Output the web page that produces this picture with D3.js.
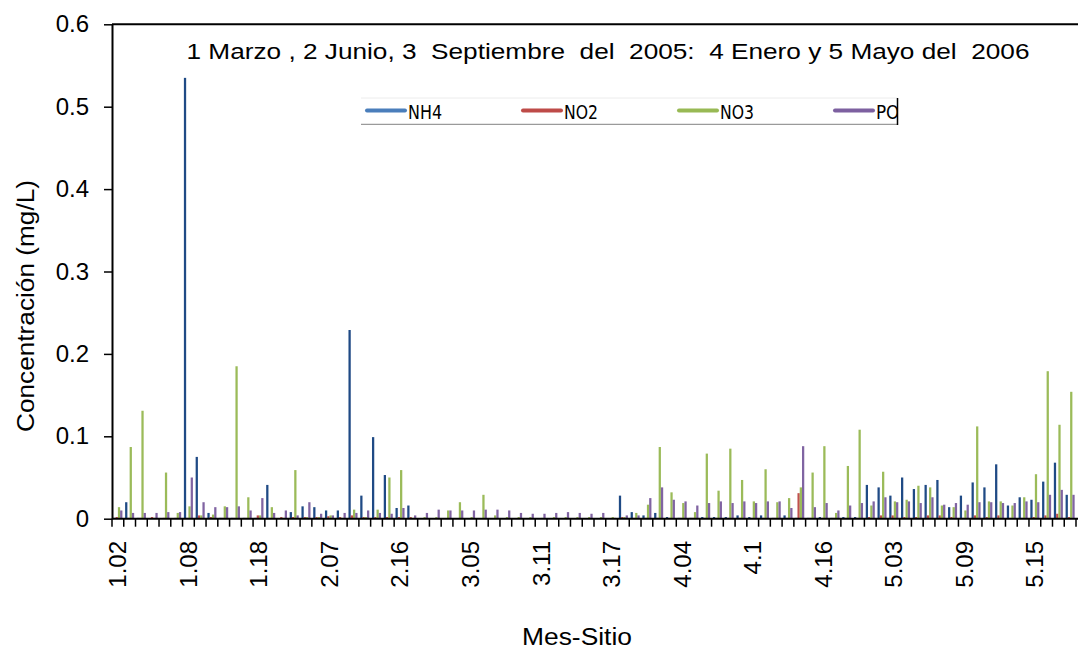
<!DOCTYPE html>
<html>
<head>
<meta charset="utf-8">
<script src="https://cdn.jsdelivr.net/npm/d3@7"></script>
<style>
  body { margin: 0; background: #fff; }
  text { font-family: "Liberation Sans", Arial, sans-serif; fill: #000; }
</style>
</head>
<body>
<svg id="chart" width="1078" height="650"></svg>
<script>
// Sampling points (month.site)
const categories = [
  "1.02","1.03","1.04","1.05","1.06","1.07","1.08","1.09","1.1","1.12","1.14","1.16","1.18","1.19",
  "2.01","2.02","2.04","2.05","2.07","2.08","2.1","2.11","2.13","2.14","2.16","2.17",
  "3.01","3.02","3.03","3.04","3.05","3.06","3.07","3.08","3.09","3.1","3.11","3.12","3.13","3.14","3.15","3.16","3.17","3.18","3.19",
  "4.01","4.02","4.03","4.04","4.05","4.06","4.07","4.08","4.09","4.1","4.11","4.12","4.13","4.14","4.15","4.16","4.17","4.18","4.19",
  "5.01","5.02","5.03","5.04","5.05","5.06","5.07","5.08","5.09","5.1","5.11","5.12","5.13","5.14","5.15","5.16","5.17","5.18"
];

// Concentrations (mg/L)
const nh4 = [
  0.001,0.020,0.001,0.000,0.000,0.000,0.535,0.075,0.007,0.001,0.001,0.001,0.001,0.041,
  0.000,0.008,0.015,0.014,0.010,0.010,0.229,0.028,0.099,0.053,0.013,0.016,
  0.000,0.000,0.000,0.000,0.000,0.000,0.000,0.000,0.000,0.000,0.000,0.000,0.000,0.000,0.000,0.000,0.000,0.028,0.008,
  0.004,0.007,0.002,0.001,0.001,0.002,0.002,0.002,0.004,0.002,0.004,0.001,0.004,0.001,0.001,0.002,0.001,0.002,0.002,
  0.041,0.038,0.028,0.050,0.036,0.041,0.047,0.014,0.028,0.044,0.038,0.066,0.016,0.026,0.023,0.045,0.068,0.029
];
const no2 = [
  0.002,0.001,0.001,0.002,0.001,0.001,0.001,0.004,0.002,0.001,0.001,0.001,0.004,0.001,
  0.002,0.002,0.002,0.002,0.003,0.002,0.004,0.002,0.002,0.002,0.002,0.002,
  0.000,0.000,0.000,0.000,0.000,0.000,0.000,0.000,0.000,0.000,0.000,0.000,0.000,0.000,0.000,0.000,0.000,0.002,0.001,
  0.001,0.001,0.001,0.001,0.001,0.001,0.001,0.001,0.001,0.001,0.001,0.001,0.001,0.031,0.001,0.001,0.001,0.001,0.001,
  0.002,0.004,0.004,0.002,0.002,0.004,0.004,0.002,0.001,0.004,0.002,0.004,0.001,0.001,0.002,0.004,0.006,0.002
];
const no3 = [
  0.014,0.087,0.131,0.001,0.056,0.007,0.015,0.004,0.005,0.015,0.185,0.026,0.004,0.014,
  0.001,0.059,0.002,0.002,0.004,0.001,0.011,0.002,0.011,0.050,0.059,0.001,
  0.002,0.002,0.010,0.020,0.002,0.029,0.004,0.002,0.002,0.002,0.001,0.002,0.002,0.002,0.002,0.002,0.002,0.002,0.007,
  0.017,0.087,0.032,0.019,0.008,0.079,0.034,0.085,0.047,0.021,0.060,0.020,0.025,0.038,0.056,0.088,0.007,0.064,0.108,
  0.016,0.057,0.021,0.023,0.040,0.038,0.016,0.014,0.010,0.112,0.021,0.021,0.016,0.026,0.054,0.179,0.114,0.154
];
const po4 = [
  0.010,0.007,0.007,0.007,0.008,0.008,0.050,0.020,0.014,0.014,0.015,0.010,0.025,0.007,
  0.010,0.004,0.020,0.006,0.004,0.007,0.007,0.010,0.007,0.006,0.013,0.004,
  0.007,0.011,0.010,0.010,0.010,0.011,0.011,0.010,0.007,0.006,0.006,0.007,0.008,0.007,0.006,0.007,0.001,0.004,0.004,
  0.025,0.038,0.023,0.021,0.016,0.019,0.021,0.019,0.021,0.019,0.021,0.021,0.013,0.088,0.014,0.019,0.010,0.016,0.019,
  0.021,0.026,0.020,0.021,0.019,0.026,0.017,0.019,0.017,0.020,0.020,0.019,0.019,0.021,0.020,0.029,0.035,0.029
];

const seriesNames = ["NH4", "NO2", "NO3", "PO4"];
const seriesValues = [nh4, no2, no3, po4];
const barColors = ["#1F4A85", "#C0504D", "#9BBB59", "#8064A2"];
const legendColors = ["#4A7EBB", "#BE4B48", "#98B954", "#7D60A0"];

const yTicks = [0, 0.1, 0.2, 0.3, 0.4, 0.5, 0.6];
const yTickLabels = ["0", "0.1", "0.2", "0.3", "0.4", "0.5", "0.6"];

const titleText = "1 Marzo , 2 Junio, 3  Septiembre  del  2005:  4 Enero y 5 Mayo del  2006";
const yTitle = "Concentración (mg/L)";
const xTitle = "Mes-Sitio";

const svg = d3.select("#chart");
const plot = { left: 112, right: 1076, top: 24.3, bottom: 518.7 };

const x = d3.scaleBand()
  .domain(categories)
  .range([plot.left, plot.right])
  .paddingInner(0.23)
  .paddingOuter(0.115);

const xs = d3.scaleBand()
  .domain(seriesNames)
  .range([0, x.bandwidth()]);

const y = d3.scaleLinear()
  .domain([0, 0.6])
  .range([plot.bottom, plot.top]);

// Bars
const rows = categories.map((c, i) => ({
  cat: c,
  vals: seriesNames.map((s, k) => ({ s, k, v: seriesValues[k][i] }))
}));

const groups = svg.append("g")
  .selectAll("g")
  .data(rows)
  .join("g")
  .attr("transform", d => `translate(${x(d.cat)},0)`);

groups.selectAll("rect")
  .data(d => d.vals)
  .join("rect")
  .attr("x", d => xs(d.s))
  .attr("width", xs.bandwidth())
  .attr("y", d => y(d.v))
  .attr("height", d => y(0) - y(d.v))
  .attr("fill", d => barColors[d.k]);

// Top frame line
svg.append("line")
  .attr("x1", plot.left).attr("x2", 1078)
  .attr("y1", plot.top).attr("y2", plot.top)
  .attr("stroke", "#000").attr("stroke-width", 2);

// Y axis
const yAxis = svg.append("g")
  .attr("transform", `translate(${plot.left},0)`)
  .call(d3.axisLeft(y)
    .tickValues(yTicks)
    .tickFormat((d, i) => yTickLabels[i])
    .tickSize(8)
    .tickSizeOuter(0)
    .tickPadding(15));
yAxis.select(".domain").attr("stroke", "#000").attr("stroke-width", 2);
yAxis.selectAll(".tick line").attr("stroke", "#000").attr("stroke-width", 1.5);
yAxis.selectAll("text")
  .style("font-family", "'Liberation Sans', Arial, sans-serif")
  .style("font-size", "24px")
  .attr("fill", "#000");

// X axis line
svg.append("line")
  .attr("x1", plot.left).attr("x2", 1078)
  .attr("y1", plot.bottom).attr("y2", plot.bottom)
  .attr("stroke", "#000").attr("stroke-width", 2);

// Tick marks between categories
const half = (x.step() - x.bandwidth()) / 2;
const boundaries = categories.map(c => x(c) - half).concat([x(categories[categories.length - 1]) + x.bandwidth() + half]);
svg.append("g")
  .selectAll("line")
  .data(boundaries)
  .join("line")
  .attr("x1", d => d).attr("x2", d => d)
  .attr("y1", plot.bottom).attr("y2", plot.bottom + 8)
  .attr("stroke", "#000").attr("stroke-width", 1.5);

// Category labels (every sixth)
const labelled = categories.filter((c, i) => i % 6 === 0);
svg.append("g")
  .selectAll("text")
  .data(labelled)
  .join("text")
  .attr("transform", d => `translate(${x(d) + x.bandwidth() / 2},541) rotate(-90)`)
  .attr("text-anchor", "end")
  .attr("dy", "0.35em")
  .style("font-size", "24px")
  .text(d => d);

// Title
svg.append("text")
  .attr("x", 186.5)
  .attr("y", 59)
  .style("font-size", "22px")
  .style("white-space", "pre")
  .attr("xml:space", "preserve")
  .attr("textLength", 843)
  .attr("lengthAdjust", "spacingAndGlyphs")
  .text(titleText);

// Axis titles
svg.append("text")
  .attr("transform", "translate(34,306) rotate(-90)")
  .attr("text-anchor", "middle")
  .style("font-size", "23px")
  .attr("textLength", 252)
  .attr("lengthAdjust", "spacingAndGlyphs")
  .text(yTitle);

svg.append("text")
  .attr("x", 577)
  .attr("y", 645)
  .attr("text-anchor", "middle")
  .style("font-size", "23px")
  .attr("textLength", 110)
  .attr("lengthAdjust", "spacingAndGlyphs")
  .text(xTitle);

// Legend (clipped at its right edge)
const legend = svg.append("g");
svg.append("defs").append("clipPath").attr("id", "legclip")
  .append("rect").attr("x", 355).attr("y", 92).attr("width", 542.5).attr("height", 40);
legend.append("line")
  .attr("x1", 361).attr("x2", 897.5).attr("y1", 98).attr("y2", 98)
  .attr("stroke", "#ececec").attr("stroke-width", 1);
legend.append("line")
  .attr("x1", 361).attr("x2", 897.5).attr("y1", 124.3).attr("y2", 124.3)
  .attr("stroke", "#9a9a9a").attr("stroke-width", 1.2);
const items = legend.append("g").attr("clip-path", "url(#legclip)")
  .selectAll("g")
  .data(seriesNames)
  .join("g")
  .attr("transform", (d, i) => `translate(${367 + i * 156},110.5)`);
items.append("line")
  .attr("x1", 0).attr("x2", 38).attr("y1", 0).attr("y2", 0)
  .attr("stroke", (d, i) => legendColors[i])
  .attr("stroke-width", 4)
  .attr("stroke-linecap", "round");
items.append("text")
  .attr("x", 41)
  .attr("y", 8)
  .style("font-family", "'Liberation Sans Narrow', 'DejaVu Sans Condensed', sans-serif")
  .style("font-size", "20px")
  .attr("fill", "#222")
  .attr("textLength", 34)
  .attr("lengthAdjust", "spacingAndGlyphs")
  .text(d => d);
legend.append("line")
  .attr("x1", 897.5).attr("x2", 897.5).attr("y1", 98).attr("y2", 125)
  .attr("stroke", "#000").attr("stroke-width", 1.5);
</script>
</body>
</html>
